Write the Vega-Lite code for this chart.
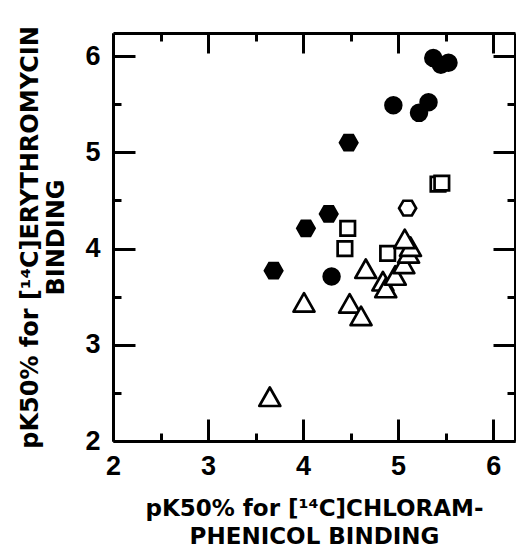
{
  "$schema": "https://vega.github.io/schema/vega-lite/v6.json",
  "width": 402,
  "height": 408,
  "autosize": {"type": "none"},
  "padding": {"left": 113, "top": 33, "right": 1, "bottom": 108},
  "background": "white",
  "config": {
    "view": {"stroke": null},
    "axis": {
      "domainColor": "black",
      "domainWidth": 3,
      "tickColor": "black",
      "tickWidth": 3,
      "grid": false,
      "labelFont": "Liberation Sans",
      "labelFontWeight": "bold",
      "labelFontSize": 27,
      "labelColor": "black",
      "labelFlush": false,
      "labelOverlap": false,
      "labelBound": false,
      "titleFont": "DejaVu Sans",
      "titleFontSize": 23,
      "titleFontWeight": "bold",
      "titleColor": "black"
    }
  },
  "data": {
    "values": [
      {"kind": "filled circle", "chloramphenicol": 5.37, "erythromycin": 5.98},
      {"kind": "filled circle", "chloramphenicol": 5.45, "erythromycin": 5.91},
      {"kind": "filled circle", "chloramphenicol": 5.53, "erythromycin": 5.93},
      {"kind": "filled circle", "chloramphenicol": 4.95, "erythromycin": 5.49},
      {"kind": "filled circle", "chloramphenicol": 5.32, "erythromycin": 5.52},
      {"kind": "filled circle", "chloramphenicol": 5.22, "erythromycin": 5.41},
      {"kind": "filled circle", "chloramphenicol": 4.30, "erythromycin": 3.71},
      {"kind": "filled hexagon", "chloramphenicol": 4.48, "erythromycin": 5.10},
      {"kind": "filled hexagon", "chloramphenicol": 4.27, "erythromycin": 4.36},
      {"kind": "filled hexagon", "chloramphenicol": 4.03, "erythromycin": 4.21},
      {"kind": "filled hexagon", "chloramphenicol": 3.69, "erythromycin": 3.77},
      {"kind": "open square", "chloramphenicol": 5.42, "erythromycin": 4.67},
      {"kind": "open square", "chloramphenicol": 5.46, "erythromycin": 4.68},
      {"kind": "open square", "chloramphenicol": 4.47, "erythromycin": 4.21},
      {"kind": "open square", "chloramphenicol": 4.44, "erythromycin": 4.00},
      {"kind": "open square", "chloramphenicol": 4.89, "erythromycin": 3.95},
      {"kind": "open hexagon", "chloramphenicol": 5.10, "erythromycin": 4.42},
      {"kind": "open triangle", "chloramphenicol": 3.65, "erythromycin": 2.46},
      {"kind": "open triangle", "chloramphenicol": 4.01, "erythromycin": 3.44},
      {"kind": "open triangle", "chloramphenicol": 4.49, "erythromycin": 3.43},
      {"kind": "open triangle", "chloramphenicol": 4.61, "erythromycin": 3.30},
      {"kind": "open triangle", "chloramphenicol": 4.66, "erythromycin": 3.79},
      {"kind": "open triangle", "chloramphenicol": 4.84, "erythromycin": 3.66},
      {"kind": "open triangle", "chloramphenicol": 4.87, "erythromycin": 3.59},
      {"kind": "open triangle", "chloramphenicol": 4.97, "erythromycin": 3.72},
      {"kind": "open triangle", "chloramphenicol": 5.06, "erythromycin": 3.84},
      {"kind": "open triangle", "chloramphenicol": 5.11, "erythromycin": 3.95},
      {"kind": "open triangle", "chloramphenicol": 5.13, "erythromycin": 4.02},
      {"kind": "open triangle", "chloramphenicol": 5.07, "erythromycin": 4.10}
    ]
  },
  "layer": [
    {
      "transform": [{"filter": "datum.kind === 'filled circle'"}],
      "mark": {"type": "point", "shape": "circle", "fill": "black", "stroke": "black", "strokeWidth": 2.5, "size": 256, "opacity": 1, "fillOpacity": 1},
      "encoding": {
        "x": {
          "field": "chloramphenicol", "type": "quantitative",
          "scale": {"domain": [2, 6.23], "nice": false, "zero": false},
          "axis": {
            "orient": "bottom",
            "values": [2, 2.5, 3, 3.5, 4, 4.5, 5, 5.5, 6],
            "tickSize": {"condition": {"test": "datum.value % 1 === 0", "value": -22}, "value": -8},
            "labelExpr": "datum.value % 1 === 0 ? format(datum.value, 'd') : ''",
            "labelPadding": 34,
            "title": ["pK50% for [¹⁴C]CHLORAM-", "PHENICOL BINDING"],
            "titleLineHeight": 28,
            "titlePadding": 4
          }
        },
        "y": {
          "field": "erythromycin", "type": "quantitative",
          "scale": {"domain": [2, 6.24], "nice": false, "zero": false},
          "axis": {
            "orient": "left",
            "values": [2, 2.5, 3, 3.5, 4, 4.5, 5, 5.5, 6],
            "tickSize": {"condition": {"test": "datum.value % 1 === 0", "value": -22}, "value": -8},
            "labelExpr": "datum.value % 1 === 0 ? format(datum.value, 'd') : ''",
            "labelPadding": 35,
            "title": ["pK50% for [¹⁴C]ERYTHROMYCIN", "BINDING"],
            "titleFontSize": 24,
            "titleLineHeight": 26,
            "titlePadding": 16
          }
        }
      }
    },
    {
      "transform": [{"filter": "datum.kind === 'filled hexagon'"}],
      "mark": {"type": "point", "shape": "M-1,0L-0.5,-0.866L0.5,-0.866L1,0L0.5,0.866L-0.5,0.866Z", "fill": "black", "stroke": "black", "strokeWidth": 2.5, "size": 306, "opacity": 1, "fillOpacity": 1},
      "encoding": {
        "x": {
          "field": "chloramphenicol", "type": "quantitative",
          "axis": {
            "orient": "top",
            "values": [2, 2.5, 3, 3.5, 4, 4.5, 5, 5.5, 6],
            "tickSize": {"condition": {"test": "datum.value % 1 === 0", "value": -20}, "value": -8},
            "labels": false,
            "title": null
          }
        },
        "y": {
          "field": "erythromycin", "type": "quantitative",
          "axis": {
            "orient": "right",
            "values": [2, 2.5, 3, 3.5, 4, 4.5, 5, 5.5, 6],
            "tickSize": {"condition": {"test": "datum.value % 1 === 0", "value": -22}, "value": -8},
            "labels": false,
            "title": null
          }
        }
      }
    },
    {
      "transform": [{"filter": "datum.kind === 'open square'"}],
      "mark": {"type": "point", "shape": "square", "fill": "white", "stroke": "black", "strokeWidth": 2.7, "size": 210, "opacity": 1, "fillOpacity": 1},
      "encoding": {
        "x": {"field": "chloramphenicol", "type": "quantitative", "axis": null},
        "y": {"field": "erythromycin", "type": "quantitative", "axis": null}
      }
    },
    {
      "transform": [{"filter": "datum.kind === 'open hexagon'"}],
      "mark": {"type": "point", "shape": "M-1,0L-0.5,-0.866L0.5,-0.866L1,0L0.5,0.866L-0.5,0.866Z", "fill": "white", "stroke": "black", "strokeWidth": 2.7, "size": 290, "opacity": 1, "fillOpacity": 1},
      "encoding": {
        "x": {"field": "chloramphenicol", "type": "quantitative", "axis": null},
        "y": {"field": "erythromycin", "type": "quantitative", "axis": null}
      }
    },
    {
      "transform": [{"filter": "datum.kind === 'open triangle'"}],
      "mark": {"type": "point", "shape": "M0,-0.88L1,0.88L-1,0.88Z", "fill": "white", "stroke": "black", "strokeWidth": 2.7, "strokeJoin": "round", "size": 441, "opacity": 1, "fillOpacity": 1},
      "encoding": {
        "x": {"field": "chloramphenicol", "type": "quantitative", "axis": null},
        "y": {"field": "erythromycin", "type": "quantitative", "axis": null}
      }
    }
  ],
  "resolve": {"axis": {"x": "independent", "y": "independent"}}
}
